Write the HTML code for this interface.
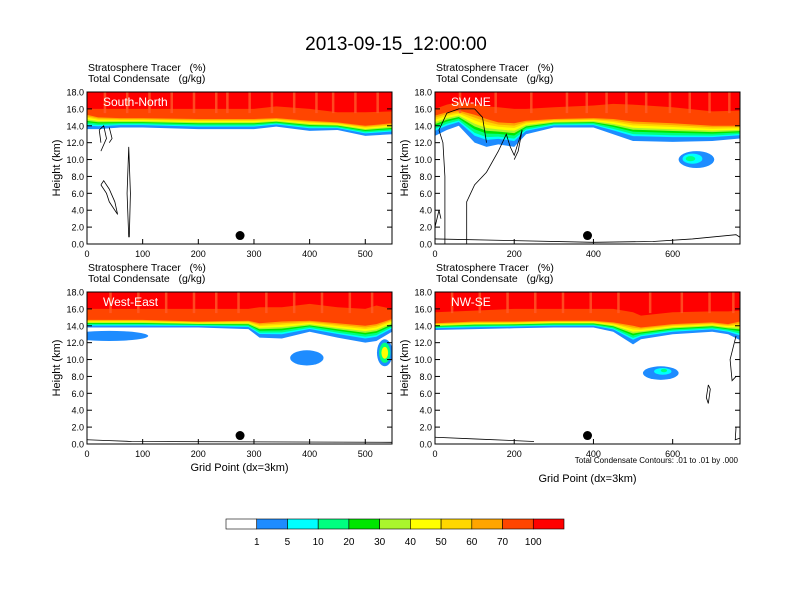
<!DOCTYPE html>
<html><head><meta charset="utf-8"><style>
body{margin:0;background:#fff}
svg{display:block;font-family:"Liberation Sans",sans-serif}
text{white-space:pre}
</style></head><body>
<svg id="s" width="792" height="612" viewBox="0 0 792 612">
<text x="396" y="50" font-size="19" text-anchor="middle">2013-09-15_12:00:00</text>
</svg>
<script>
// ---- data ----
const levelLabels=["1","5","10","20","30","40","50","60","70","100"];
const levelColors=["#ffffff","#1e8cff","#00ffff","#00ff80","#00e600","#aaf52d","#ffff00","#ffd700","#ffa500","#ff4500","#ff0000"];
const levelFrac=[0,0.25,0.35,0.48,0.58,0.68,0.8,0.9,1];
const p1X=[0,20,60,100,200,300,340,400,450,500,548];
const p1Z1=[13.6,13.6,13.8,13.8,13.6,13.6,13.9,13.4,13.5,12.8,13.0];
const p1Z70=[15.3,15.0,14.9,14.9,14.8,14.8,14.9,14.6,14.4,14.0,14.3];
const p1Z100=[16,16,16,16,16,16,16.3,16,15.6,15.6,15.7];
const p2X=[0,30,60,100,130,160,200,230,300,400,450,500,600,700,770];
const p2Z1=[12.8,13.5,14,12.0,11.5,11.8,11.5,13.0,13.8,13.8,13,12.2,12.1,12.2,12.5];
const p2Z70=[15.2,15.6,15.8,15.3,14.8,14.4,14.3,14.6,14.8,14.9,14.8,14.5,14.3,14.0,14.0];
const p2Z100=[16,16.5,16.8,16.6,16.3,16.2,16,16,16.2,16.4,16.6,16.5,16.2,15.7,15.8];
const p3X=[0,100,200,290,310,350,400,450,500,520,548];
const p3Z1=[13.8,13.8,13.8,13.6,12.6,12.5,13.3,12.6,12.0,12.2,13.3];
const p3Z70=[14.7,14.7,14.5,14.6,14.3,14.5,14.6,14.3,14.0,14.2,14.8];
const p3Z100=[16,16,16,16,16.2,16.2,16.6,16.2,16,16.4,16];
const p4X=[0,100,200,300,400,450,500,520,600,700,740,770];
const p4Z1=[13.5,13.6,13.7,13.8,13.8,13.3,11.8,12.4,13,13.3,13.0,12.3];
const p4Z70=[14.3,14.5,14.5,14.6,14.6,14.4,14.0,13.8,14.2,14.4,14.2,14.5];
const p4Z100=[15.6,15.8,16,16,16,16,15.6,15.2,15.6,15.7,15.7,15.8];
const yTicks=[0,2,4,6,8,10,12,14,16,18];
// blobs: [gridX, heightKm, rxGrid, ryKm, levelIndex]
const p2Blobs=[[660,10,45,1.0,1],[650,10.1,25,0.6,2],[645,10.1,12,0.3,3]];
const p3Blobs=[[40,12.8,70,0.6,1],[395,10.2,30,0.9,1],[535,10.8,14,1.6,1],[535,10.8,10,1.2,3],[535,10.8,6,0.7,6]];
const p4Blobs=[[570,8.4,45,0.8,1],[575,8.6,22,0.4,2],[578,8.7,8,0.2,3]];
// orange streaks in the red layer (grid x positions)
const p1Streaks=[30,70,110,150,190,230,250,290,330,370,410,440,480,520];
const p2Streaks=[60,150,240,330,380,430,480,530,590,640,690,740];
const p3Streaks=[40,90,140,190,230,270,320,370,420,470,510];
const p4Streaks=[40,110,180,250,320,390,460,540,620,690,750];
// condensate contours: [gridX, km] polylines
const p1Contours=[[[75,0.8],[72,6],[75,11.5],[78,6],[76,0.8]],[[25,12],[22,13.5],[30,14],[35,12.5],[25,11]],[[25,7],[35,6],[40,5],[50,4],[55,3.5],[50,5],[40,6.5],[30,7.5],[25,7]],[[40,13.8],[45,12.5],[40,12]]];
const p2Contours=[[[25,0],[25,8],[20,12],[10,13.5],[30,15.5],[60,16],[100,16],[120,15],[130,12]],[[80,0],[80,5],[100,7],[130,8.5],[160,11],[170,12],[180,13],[190,11.5],[200,10.5],[220,13.5],[210,11],[200,10]],[[0,0.6],[400,0.2],[550,0.3],[650,0.6],[760,1.1],[770,0.8]],[[0,2],[10,4],[15,3]]];
const p3Contours=[[[0,0.5],[40,0.4],[80,0.3],[548,0.2]]];
const p4Contours=[[[0,0.8],[100,0.6],[200,0.4],[250,0.3]],[[760,12.8],[745,10],[750,7.5],[760,8]],[[690,7],[685,5.5],[690,4.8],[695,6.5],[690,7]],[[760,2],[758,0.5],[770,0.7]]];

const S=document.getElementById('s');
const NS="http://www.w3.org/2000/svg";
function mk(t,a,p){const e=document.createElementNS(NS,t);for(const k in a)e.setAttribute(k,a[k]);(p||S).appendChild(e);return e;}

const panels=[
 {x0:87,y0:92,name:"South-North",xmax:548,xt:[0,100,200,300,400,500],X:p1X,Z1:p1Z1,Z70:p1Z70,Z100:p1Z100,blobs:[],st:p1Streaks,ct:p1Contours,dot:275,xlabel:false},
 {x0:435,y0:92,name:"SW-NE",xmax:770,xt:[0,200,400,600],X:p2X,Z1:p2Z1,Z70:p2Z70,Z100:p2Z100,blobs:p2Blobs,st:p2Streaks,ct:p2Contours,dot:385,xlabel:false},
 {x0:87,y0:292,name:"West-East",xmax:548,xt:[0,100,200,300,400,500],X:p3X,Z1:p3Z1,Z70:p3Z70,Z100:p3Z100,blobs:p3Blobs,st:p3Streaks,ct:p3Contours,dot:275,xlabel:true},
 {x0:435,y0:292,name:"NW-SE",xmax:770,xt:[0,200,400,600],X:p4X,Z1:p4Z1,Z70:p4Z70,Z100:p4Z100,blobs:p4Blobs,st:p4Streaks,ct:p4Contours,dot:385,xlabel:true,note:true}
];
const W=305,H=152;
panels.forEach((p,pi)=>{
 const g=mk('g',{});
 
 
 const sx=v=>p.x0+v/p.xmax*W, sy=z=>p.y0+H-z/18*H;
 const t1=mk('text',{x:p.x0+1,y:p.y0-21,'font-size':10.5},g);t1.textContent="Stratosphere Tracer   (%)";
 
 const t2=mk('text',{x:p.x0+1,y:p.y0-10,'font-size':10.5},g);t2.textContent="Total Condensate   (g/kg)";
 
 const cp=mk('clipPath',{id:'c'+pi},g);
 mk('rect',{x:p.x0,y:p.y0,width:W,height:H},cp);
 const fg=mk('g',{'clip-path':'url(#c'+pi+')'},g);
 for(let li=0;li<levelFrac.length;li++){
  const f=levelFrac[li];
  let d="M"+sx(p.X[0])+","+sy(18);
  p.X.forEach((x,i)=>{const z=p.Z1[i]+f*(p.Z70[i]-p.Z1[i]);d+=" L"+sx(x)+","+sy(z);});
  d+=" L"+sx(p.X[p.X.length-1])+","+sy(18)+"Z";
  const b=mk('path',{d:d,fill:levelColors[li+1]},fg);
  
 }
 let d="M"+sx(p.X[0])+","+sy(18);
 p.X.forEach((x,i)=>{d+=" L"+sx(x)+","+sy(p.Z100[i]);});
 d+=" L"+sx(p.X[p.X.length-1])+","+sy(18)+"Z";
 const r=mk('path',{d:d,fill:levelColors[10]},fg);
 
 p.st.forEach(v=>{
  const s=mk('rect',{x:sx(v),y:sy(18),width:2.5,height:sy(15.5)-sy(18),fill:"#ff5a28",opacity:0.8},fg);
  
 });
 p.blobs.forEach(b=>{
  const e=mk('ellipse',{cx:sx(b[0]),cy:sy(b[1]),rx:b[2]/p.xmax*W,ry:b[3]/18*H,fill:levelColors[b[4]]},fg);
  
 });
 p.ct.forEach(c=>{
  const cl=mk('path',{d:"M"+c.map(q=>sx(q[0])+","+sy(q[1])).join(" L"),stroke:"#000","stroke-width":0.8,fill:"none"},fg);
  
 });
 const dot=mk('circle',{cx:sx(p.dot),cy:sy(1.0),r:4.5,fill:"#000"},g);
 
 const lb=mk('text',{x:p.x0+16,y:p.y0+14,'font-size':12,fill:"#fff"},g);lb.textContent=p.name;
 
 const fr=mk('rect',{x:p.x0,y:p.y0,width:W,height:H,fill:"none",stroke:"#000","stroke-width":1},g);
 
 yTicks.forEach(z=>{
  mk('line',{x1:p.x0,x2:p.x0+5,y1:sy(z),y2:sy(z),stroke:"#000"},g);
  mk('line',{x1:p.x0+W,x2:p.x0+W-5,y1:sy(z),y2:sy(z),stroke:"#000"},g);
  const t=mk('text',{x:p.x0-3,y:sy(z)+3.5,'font-size':9,'text-anchor':'end'},g);t.textContent=z.toFixed(1);
  
 });
 p.xt.forEach(v=>{
  mk('line',{x1:sx(v),x2:sx(v),y1:p.y0+H,y2:p.y0+H-5,stroke:"#000"},g);
  const t=mk('text',{x:sx(v),y:p.y0+H+13,'font-size':9,'text-anchor':'middle'},g);t.textContent=v;
  
 });
 const yl=mk('text',{transform:`translate(${p.x0-27},${p.y0+H/2}) rotate(-90)`,'font-size':11,'text-anchor':'middle'},g);yl.textContent="Height (km)";
 
 if(p.note){const n=mk('text',{x:p.x0+W-2,y:p.y0+H+19,'font-size':8,'text-anchor':'end'},g);n.textContent="Total Condensate Contours: .01 to .01 by .000";
  }
 if(p.xlabel){const xl=mk('text',{x:p.x0+W/2,y:p.note?p.y0+H+38:p.y0+H+27,'font-size':11,'text-anchor':'middle'},g);xl.textContent="Grid Point (dx=3km)";
  }
});
const cb=mk('g',{});

const bw=(564-226)/11;
levelColors.forEach((c,i)=>{
 const r=mk('rect',{x:226+i*bw,y:519,width:bw,height:10,fill:c,stroke:"#000","stroke-width":0.6},cb);
 
});
levelLabels.forEach((l,i)=>{
 const t=mk('text',{x:226+(i+1)*bw,y:545,'font-size':10,'text-anchor':'middle'},cb);t.textContent=l;
 
});
</script>
</body></html>
